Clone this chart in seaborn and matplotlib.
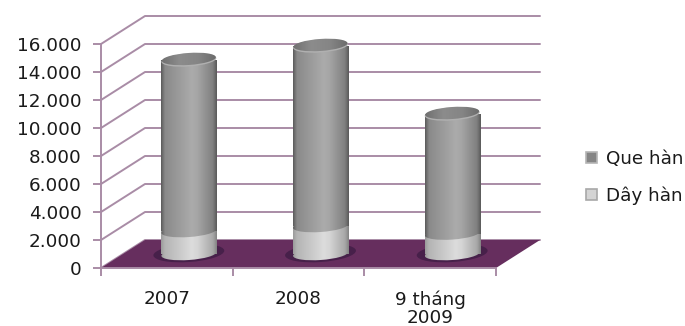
import matplotlib
matplotlib.use("Agg")
import numpy as np
import matplotlib.pyplot as plt
import seaborn as sns
from matplotlib.patches import Ellipse, Polygon, Rectangle, Patch
from matplotlib.transforms import IdentityTransform
from matplotlib.colors import LinearSegmentedColormap

categories = ["2007", "2008", "9 tháng\n2009"]
day_han = [1640, 2000, 1460]
que_han = [12220, 12860, 8540]
y_ticks = [0, 2000, 4000, 6000, 8000, 10000, 12000, 14000, 16000]
y_labels = ["0", "2.000", "4.000", "6.000", "8.000", "10.000", "12.000", "14.000", "16.000"]

W, H = 685, 326
GRID = "#A98CA6"
FLOOR = "#662E5E"
sns.set_theme(style="white", rc={"font.family": "DejaVu Sans"})
fig = plt.figure(figsize=(W / 100, H / 100), dpi=100)
ax = fig.add_axes([0, 0, 1, 1], facecolor="white")

sns.barplot(x=categories, y=day_han, color="#c8c8c8", width=0.418, ax=ax, zorder=3, saturation=1)
sns.barplot(x=categories, y=que_han, bottom=day_han, color="#8c8c8c", width=0.418, ax=ax, zorder=3, saturation=1)

# axis mapping: 131.67 px per category, 14 px per 1000 units
ux = 131.67
uy = 14 / 1000
ax.set_xlim(-0.5 - 101 / ux, -0.5 + (W - 101) / ux)
ax.set_ylim(-(H - 268) / uy, 268 / uy)

dx, dy = 44 / ux, 28 / uy
for v in y_ticks:
    ax.plot([-0.5, -0.5 + dx, 2.5 + dx], [v, v + dy, v + dy], color=GRID, lw=1.4, zorder=1, solid_joinstyle="round")
ax.add_patch(Polygon([(-0.5, 0), (-0.5 + dx, dy), (2.5 + dx, dy), (2.5, 0)], closed=True, fc=FLOOR, ec="none", zorder=2))

for s in ["top", "right"]:
    ax.spines[s].set_visible(False)
ax.spines["left"].set_position(("data", -0.5))
ax.spines["left"].set_bounds(0, 16000)
ax.spines["bottom"].set_position(("data", 0))
ax.spines["bottom"].set_bounds(-0.5, 2.5)
for s in ["left", "bottom"]:
    ax.spines[s].set_color(GRID)
    ax.spines[s].set_linewidth(1.4)
    ax.spines[s].set_zorder(2.5)
ax.set_yticks(y_ticks, y_labels)
ax.set_xticks([0, 1, 2], categories)
ax.set_xticks([-0.5, 0.5, 1.5, 2.5], minor=True)
ax.tick_params(axis="y", left=True, length=6, width=1.4, color=GRID, labelsize=13.2, labelcolor="#1a1a1a", pad=8)
ax.tick_params(axis="x", which="minor", bottom=True, length=6, width=1.4, color=GRID)
ax.tick_params(axis="x", which="major", bottom=False, labelsize=13.2, labelcolor="#1a1a1a", pad=10)
for lab in ax.get_xticklabels():
    lab.set_linespacing(1.0)

fig.canvas.draw()

# cylinder rendering
off_x, off_y = 22, 14
pos = [0, .07, .55, .65, .93, 1]
dark = LinearSegmentedColormap.from_list("d", list(zip(pos, ["#5c5c5c", "#8a8a8a", "#ababab", "#a6a6a6", "#808080", "#5a5a5a"])))
light = LinearSegmentedColormap.from_list("l", list(zip(pos, ["#9c9c9c", "#b4b4b4", "#dcdcdc", "#d6d6d6", "#a8a8a8", "#848484"])))
top = LinearSegmentedColormap.from_list("t", ["#707070", "#8c8c8c", "#858585", "#6a6a6a"])
grad = np.linspace(0, 1, 128)[None, :]
ident = IdentityTransform()


def shaded(patch, cmap, bounds, z):
    im = ax.imshow(grad, cmap=cmap, extent=bounds, transform=ident, aspect="auto", zorder=z, interpolation="bilinear")
    patch.set_transform(ident)
    im.set_clip_path(patch)


bars_low, bars_high = ax.containers[0], ax.containers[1]
angle = 4
for lo, hi in zip(bars_low, bars_high):
    x0 = lo.get_x()
    x1 = x0 + lo.get_width()
    (px0, p0), (px1, p1) = ax.transData.transform([(x0, 0), (x1, lo.get_height())])
    _, p2 = ax.transData.transform((x0, lo.get_height() + hi.get_height()))
    px0 += off_x; px1 += off_x; p0 += off_y; p1 += off_y; p2 += off_y
    cx = (px0 + px1) / 2
    w = px1 - px0
    b = (px0, px1, p0 - 8, p2 + 8)
    lo.set_visible(False)
    hi.set_visible(False)
    # floor shadow
    ax.add_patch(Ellipse((cx, p0 + 1), w + 16, 18, angle=angle, fc="#47204A", ec="none", transform=ident, zorder=2.8))
    # light segment
    shaded(Rectangle((px0, p0), w, p1 - p0), light, b, 3.0)
    shaded(Ellipse((cx, p0), w, 12, angle=angle), light, b, 3.0)
    # dark segment
    shaded(Rectangle((px0, p1), w, p2 - p1), dark, b, 3.1)
    shaded(Ellipse((cx, p1), w, 12, angle=angle), dark, b, 3.1)
    # top cap
    ax.add_patch(Ellipse((cx, p2), w, 13, angle=angle, fc="#b0b0b0", ec="none", transform=ident, zorder=3.2))
    shaded(Ellipse((cx, p2 + 1), w - 1, 12, angle=angle), top, b, 3.3)

ax.set_xlim(-0.5 - 101 / ux, -0.5 + (W - 101) / ux)
ax.set_ylim(-(H - 268) / uy, 268 / uy)

handles = [Patch(fc="#858585", ec="#b5b5b5", lw=1.2), Patch(fc="#d4d4d4", ec="#a8a8a8", lw=1.2)]
leg = ax.legend(handles, ["Que hàn", "Dây hàn"], loc="upper left", bbox_to_anchor=(586 / W, 1 - 150 / H),
                frameon=False, fontsize=13.2, handlelength=0.6, handleheight=0.6, handletextpad=0.5,
                labelspacing=1.0, borderpad=0, borderaxespad=0, labelcolor="#1a1a1a")

fig.savefig("out.png", dpi=100)
